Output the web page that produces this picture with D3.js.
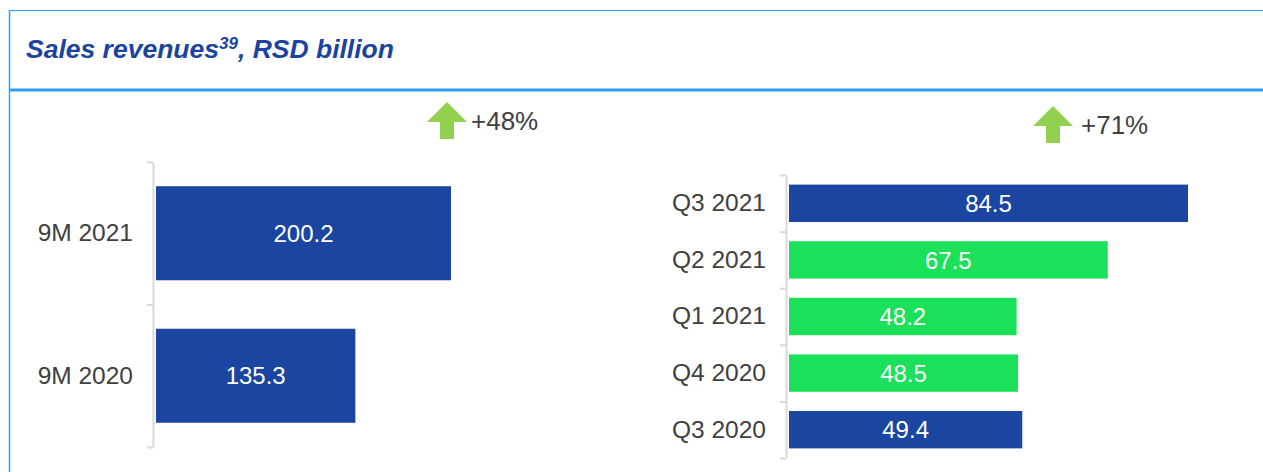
<!DOCTYPE html>
<html>
<head>
<meta charset="utf-8">
<script src="https://cdn.jsdelivr.net/npm/d3@7"></script>
<style>
  body { margin: 0; background: #fff; }
  svg { display: block; font-family: "Liberation Sans", Arial, sans-serif; }
</style>
</head>
<body>
<svg width="1263" height="472"></svg>
<script>
// data
const leftCats = ["9M 2021", "9M 2020"];
const leftValues = [200.2, 135.3];
const leftColors = ["#1a45a0", "#1a45a0"];
const leftChange = "+48%";

const rightCats = ["Q3 2021", "Q2 2021", "Q1 2021", "Q4 2020", "Q3 2020"];
const rightValues = [84.5, 67.5, 48.2, 48.5, 49.4];
const rightColors = ["#1a45a0", "#1ae05a", "#1ae05a", "#1ae05a", "#1a45a0"];
const rightChange = "+71%";

const svg = d3.select("svg");
const frameBlue = "#2f9ef7";

// frame + header
svg.append("line").attr("x1", 9.5).attr("x2", 1263).attr("y1", 10.5).attr("y2", 10.5)
  .attr("stroke", frameBlue).attr("stroke-width", 1);
svg.append("line").attr("x1", 9.5).attr("x2", 9.5).attr("y1", 10).attr("y2", 472)
  .attr("stroke", frameBlue).attr("stroke-width", 1.5);
svg.append("line").attr("x1", 9).attr("x2", 1263).attr("y1", 90).attr("y2", 90)
  .attr("stroke", frameBlue).attr("stroke-width", 3);

const title = svg.append("text")
  .attr("x", 26).attr("y", 58)
  .attr("fill", "#1a44a0")
  .style("font-size", "26.5px").style("font-weight", "bold").style("font-style", "italic");
title.append("tspan").text("Sales revenues");
title.append("tspan").text("39").attr("dy", -9).style("font-size", "17px");
title.append("tspan").text(", RSD billion").attr("dy", 9);

function drawChart(cats, values, colors, opt) {
  const g = svg.append("g");
  const y = d3.scaleBand().domain(cats).range([opt.top, opt.bottom])
    .paddingInner(0.34).paddingOuter(0.17);
  const x = d3.scaleLinear().domain([0, d3.max(values)]).range([opt.left, opt.right]);

  // bars
  g.selectAll("rect").data(values).join("rect")
    .attr("x", x(0))
    .attr("y", (d, i) => y(cats[i]))
    .attr("width", d => x(d) - x(0))
    .attr("height", y.bandwidth())
    .attr("fill", (d, i) => colors[i]);

  g.selectAll(".val").data(values).join("text")
    .attr("class", "val")
    .attr("x", d => (x(0) + x(d)) / 2)
    .attr("y", (d, i) => y(cats[i]) + y.bandwidth() / 2)
    .attr("dy", "0.36em")
    .attr("text-anchor", "middle")
    .attr("fill", "#fff")
    .style("font-size", "24px")
    .text(d => d.toFixed(1));

  // axis line with ticks at band boundaries
  const bounds = d3.scaleLinear().domain([0, cats.length]).range([opt.top, opt.bottom]);
  const ax = g.append("g").attr("transform", `translate(${opt.left - 3},0)`)
    .call(d3.axisLeft(bounds).tickValues(d3.range(cats.length + 1)).tickFormat("").tickSize(6).tickSizeOuter(0));
  ax.selectAll("path, line").attr("stroke", "#d9d9d9").attr("stroke-width", 2);

  // category labels
  const lab = g.append("g").attr("transform", `translate(${opt.left - 3},0)`)
    .call(d3.axisLeft(y).tickSize(0).tickPadding(opt.pad));
  lab.select(".domain").remove();
  lab.selectAll("text").attr("fill", "#404040").style("font-size", "24.5px")
    .style("font-family", "'Liberation Sans', Arial, sans-serif");

  // growth arrow
  const a = g.append("g").attr("transform", `translate(${opt.arrowX},${opt.arrowY})`);
  a.append("path")
    .attr("d", "M0,0 L20,20 L7,20 L7,37 L-7,37 L-7,20 L-20,20 Z")
    .attr("fill", "#92d050");
  a.append("text").attr("x", opt.textDx).attr("y", 28)
    .attr("fill", "#404040").style("font-size", "26px")
    .text(opt.change);
}

drawChart(leftCats, leftValues, leftColors,
  {top: 162, bottom: 447, left: 156, right: 451, pad: 20, arrowX: 447, arrowY: 102, textDx: 24, change: leftChange});
drawChart(rightCats, rightValues, rightColors,
  {top: 175, bottom: 458, left: 789, right: 1188, pad: 20, arrowX: 1053, arrowY: 106, textDx: 28, change: rightChange});
</script>
</body>
</html>
